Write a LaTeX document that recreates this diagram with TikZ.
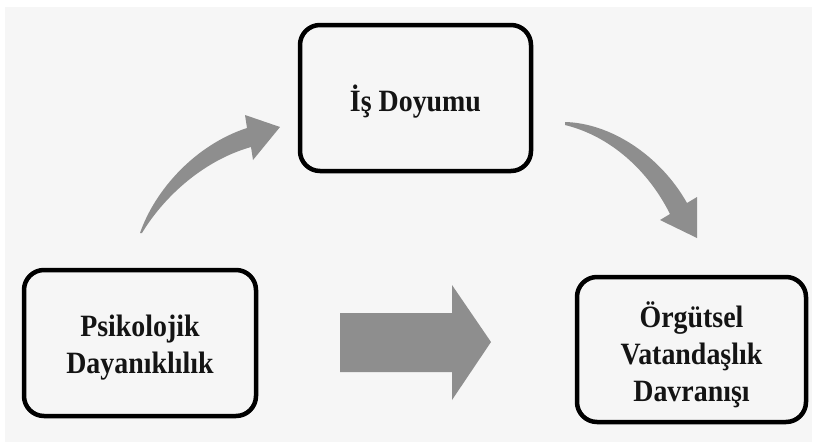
\documentclass[tikz,border=0pt]{standalone}
\usepackage{fontspec}
\setmainfont{Liberation Serif}
\usepackage{graphicx}
\definecolor{bgcol}{HTML}{F6F6F6}
\definecolor{arrcol}{HTML}{8E8E8E}
\newcommand{\sq}[1]{\scalebox{0.9}[1]{#1}}
\begin{document}
\begin{tikzpicture}[x=1pt,y=-1pt,
  box/.style={draw=black, line width=4.5pt, rounded corners=20pt, fill=bgcol, minimum width=#1},
  lbl/.style={align=center, font=\fontsize{31}{37}\selectfont\bfseries, text=black!92, inner sep=0pt},
  garrow/.style={fill=arrcol, draw=none}]
\useasboundingbox (0,0) rectangle (815,445);
\fill[white] (0,0) rectangle (815,445);
\fill[bgcol] (5,7) rectangle (812,442);
% boxes
\node[box=232pt, minimum height=146pt] (pd) at (140,343) {};
\node[box=231pt, minimum height=146pt] (id) at (415.5,98) {};
\node[box=229pt, minimum height=145pt] (ov) at (691.5,349.5) {};
% labels
\node[lbl] (pdl) at ([yshift=-5pt]pd.center) {\sq{Psikolojik}\\\sq{Dayanıklılık}};
\node[lbl] (idl) at ([yshift=-4pt]id.center) {\sq{İş Doyumu}};
\node[lbl] (ovl) at ([yshift=-5pt]ov.center) {\sq{Örgütsel}\\\sq{Vatandaşlık}\\\sq{Davranışı}};
% big straight arrow
\coordinate (ba) at (340,342.5);
\fill[garrow] (ba) ++(0,-29.5) -- ++(112,0) -- ++(0,-28) -- (491,342) -- (452,400) -- (452,372) -- (340,372) -- cycle;
% curved arrow 1 (pd -> id)
\coordinate (t1) at (140,233);
\fill[garrow] (t1) .. controls (155,190) and (195,145) .. (247,128)
  -- (245,115) -- (280,127) -- (253,160) -- (251,147)
  .. controls (205,160) and (165,195) .. (142,233) -- cycle;
% curved arrow 2 (id -> ov)
\coordinate (t2) at (565,122);
\fill[garrow] (t2) .. controls (610,123) and (660,155) .. (687,203)
  -- (697,197) -- (697,238) -- (660,220) -- (670,214)
  .. controls (648,170) and (610,136) .. (565,125) -- cycle;
\end{tikzpicture}
\end{document}
